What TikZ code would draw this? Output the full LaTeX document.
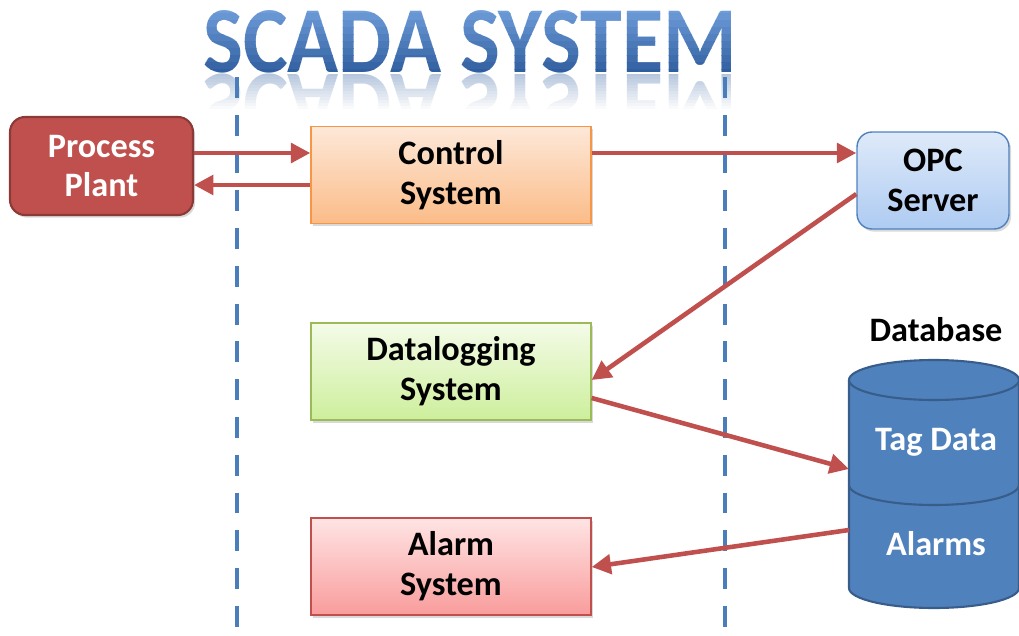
\documentclass[tikz,border=0pt]{standalone}
\usepackage{fontspec}
\setmainfont{Carlito}
\usetikzlibrary{arrows.meta,shadows}
\definecolor{plantred}{HTML}{C0504D}
\definecolor{plantdark}{HTML}{8C3A38}
\definecolor{arrred}{HTML}{C0504D}
\definecolor{sepblue}{HTML}{4A7EBB}
\definecolor{ctrltop}{HTML}{FDE8D8}
\definecolor{ctrlbot}{HTML}{FBBC88}
\definecolor{ctrlline}{HTML}{F79646}
\definecolor{logtop}{HTML}{F4FBE8}
\definecolor{logbot}{HTML}{CDEF9C}
\definecolor{logline}{HTML}{9BBB59}
\definecolor{alarmtop}{HTML}{FFE4E4}
\definecolor{alarmbot}{HTML}{F99C9C}
\definecolor{alarmline}{HTML}{C0504D}
\definecolor{opctop}{HTML}{DEEAF9}
\definecolor{opcbot}{HTML}{AECBF2}
\definecolor{opcline}{HTML}{4F81BD}
\definecolor{dbblue}{HTML}{4F81BD}
\definecolor{dbline}{HTML}{385D8A}
\definecolor{ttltop}{HTML}{6F9DDA}
\definecolor{ttlbot}{HTML}{2F5E9E}
\newcommand\boxfont{\bfseries\fontsize{19.5}{22.7}\selectfont}
\tikzset{
  box/.style={draw, line width=.8pt, minimum width=5.6cm, minimum height=1.94cm,
    align=center, font=\boxfont,
    drop shadow={shadow xshift=1.2pt, shadow yshift=-1.5pt, opacity=.3}},
  plantbox/.style={box, rounded corners=.3cm, minimum width=3.66cm, minimum height=1.96cm,
    fill=plantred, draw=plantdark, line width=1.2pt, text=white},
  ctrlbox/.style={box, top color=ctrltop, bottom color=ctrlbot, draw=ctrlline},
  logbox/.style={box, top color=logtop, bottom color=logbot, draw=logline},
  alarmbox/.style={box, top color=alarmtop, bottom color=alarmbot, draw=alarmline},
  opcbox/.style={box, rounded corners=.3cm, minimum width=3.04cm,
    top color=opctop, bottom color=opcbot, draw=opcline},
  dblabel/.style={font=\boxfont, inner sep=0pt},
  ttl/.style={font=\bfseries\fontsize{48}{50}\selectfont, anchor=base, inner sep=0pt},
  sep/.style={draw=sepblue, line width=2.8pt, dash pattern=on 11.9pt off 9.6pt},
  arr/.style={color=arrred, line width=2.6pt, -{Triangle[length=11pt,width=11pt]}}
}
\begin{document}
\begin{tikzpicture}[x=0.02cm, y=-0.02cm]
  \useasboundingbox (0,0) rectangle (1019,636);
  % title, shaded in strips
  \foreach \i [evaluate=\i as \pc using int(100-11*\i)] in {0,...,9}{
    \begin{scope}
      \clip (150,6+7*\i) rectangle (800,13+7*\i);
      \node[ttl, text=ttltop!\pc!ttlbot] (title\i) at (470,72) {\scalebox{1}[1.12]{SCADA SYSTEM}};
    \end{scope}
  }
  % reflection
  \begin{scope}
    \clip (150,73) rectangle (800,110);
    \node[ttl, text=ttlbot, opacity=.35] (mirror) at (470,74) {\scalebox{1}[-1.12]{SCADA SYSTEM}};
    \foreach \i [evaluate=\i as \op using \i/12] in {0,...,12}
      \fill[white, opacity=\op] (150,73+3*\i) rectangle (800,76+3*\i);
  \end{scope}

  \node[plantbox] (plant) at (101.5,166) {Process\\Plant};
  \node[ctrlbox] (ctrl) at (451,175) {Control\\System};
  \node[opcbox] (opc) at (933,180.5) {OPC\\Server};
  \node[logbox] (log) at (451,371.5) {Datalogging\\System};
  \node[alarmbox] (alarm) at (451,566.5) {Alarm\\System};

  % database
  \begin{scope}[line width=1.2pt]
    \filldraw[fill=dbblue, draw=dbline] (849,380) -- (849,588)
      arc[start angle=180, end angle=0, x radius=85, y radius=20] -- (1019,380);
    \filldraw[fill=dbblue, draw=dbline] (934,380) ellipse[x radius=85, y radius=20];
    \draw[dbline] (849,485) arc[start angle=180, end angle=0, x radius=85, y radius=20];
  \end{scope}
  \coordinate (db) at (849,380);
  \node[dblabel] (dbname) at (936,330) {Database};
  \node[dblabel, text=white] (tag) at (936,442) {Tag Data};
  \node[dblabel, text=white] (alarms) at (936,544) {Alarms};

  \draw[sep] (237,77) -- (237,636);
  \draw[sep] (725,77) -- (725,636);

  \begin{scope}[arr]
    \draw (plant.east |- 0,153) -- (ctrl.west |- 0,153);
    \draw (ctrl.west |- 0,185) -- (plant.east |- 0,185);
    \draw (ctrl.east |- 0,153) -- (opc.west |- 0,153);
    \draw (opc.west |- 0,194) -- (log.east |- 0,380);
    \draw (log.east |- 0,398) -- (db |- 0,469);
    \draw (db |- 0,530) -- (alarm.east |- 0,567);
  \end{scope}
\end{tikzpicture}
\end{document}
